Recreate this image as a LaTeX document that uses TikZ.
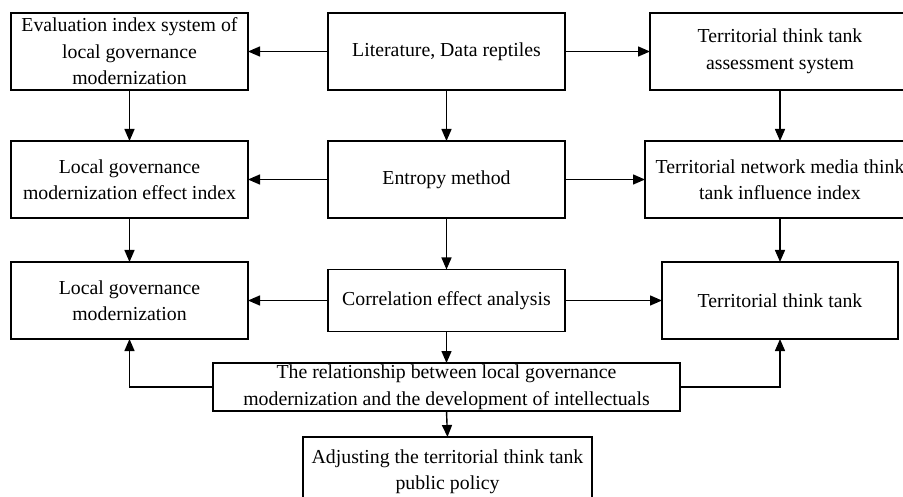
\documentclass[tikz,border=0pt]{standalone}
\usepackage{fontspec}
\setmainfont{Liberation Serif}
\usetikzlibrary{arrows.meta}
\tikzset{
  box/.style={draw, line width=1.4pt, rectangle, inner xsep=0pt, inner ysep=0pt,
    outer sep=0pt, align=center, minimum width=237pt, minimum height=77pt,
    font=\fontsize{19.8pt}{26.5pt}\selectfont},
  flow/.style={line width=1.4pt, -{Triangle[length=12pt,width=10pt]}}
}
\begin{document}
\begin{tikzpicture}[x=1pt,y=-1pt]
\useasboundingbox (0,0) rectangle (903,497);
% top row
\node[box] (eval) at (129.5,51.5) {Evaluation index system of\\local governance\\modernization};
\node[box] (lit) at (446.5,51.5) {Literature, Data reptiles};
\node[box, minimum width=260pt] (assess) at (780,51.5) {Territorial think tank\\assessment system};
% middle row
\node[box] (effect) at (129.5,179.5) {Local governance\\modernization effect index};
\node[box] (entropy) at (446.5,179.5) {Entropy method};
\node[box, minimum width=270pt] (media) at (780,179.5) {Territorial network media think\\tank influence index};
% third row
\node[box] (lgm) at (129.5,300.5) {Local governance\\modernization};
\node[box, minimum height=62pt] (corr) at (446.5,300.5) {Correlation effect analysis};
\node[box, minimum width=236pt] (ttt) at (780,300.5) {Territorial think tank};
% relationship and policy
\node[box, minimum width=467pt, minimum height=48pt] (rel) at (446.5,387) {The relationship between local governance\\modernization and the development of intellectuals};
\node[box, minimum width=289pt, minimum height=70pt] (policy) at (447.5,472) {Adjusting the territorial think tank\\public policy};
% connectors
\draw[flow] (lit.west) -- (eval.east);
\draw[flow] (lit.east) -- (assess.west);
\draw[flow] (lit.south) -- (entropy.north);
\draw[flow] (eval.south) -- (effect.north);
\draw[flow] (assess.south) -- (media.north);
\draw[flow] (entropy.west) -- (effect.east);
\draw[flow] (entropy.east) -- (media.west);
\draw[flow] (effect.south) -- (lgm.north);
\draw[flow] (entropy.south) -- (corr.north);
\draw[flow] (media.south) -- (ttt.north);
\draw[flow] (corr.west) -- (lgm.east);
\draw[flow] (corr.east) -- (ttt.west);
\draw[flow] (corr.south) -- (rel.north);
\draw[flow] (rel.west) -| (lgm.south);
\draw[flow] (rel.east) -| (ttt.south);
\draw[flow] (rel.south) -- (policy.north);
\end{tikzpicture}
\end{document}
